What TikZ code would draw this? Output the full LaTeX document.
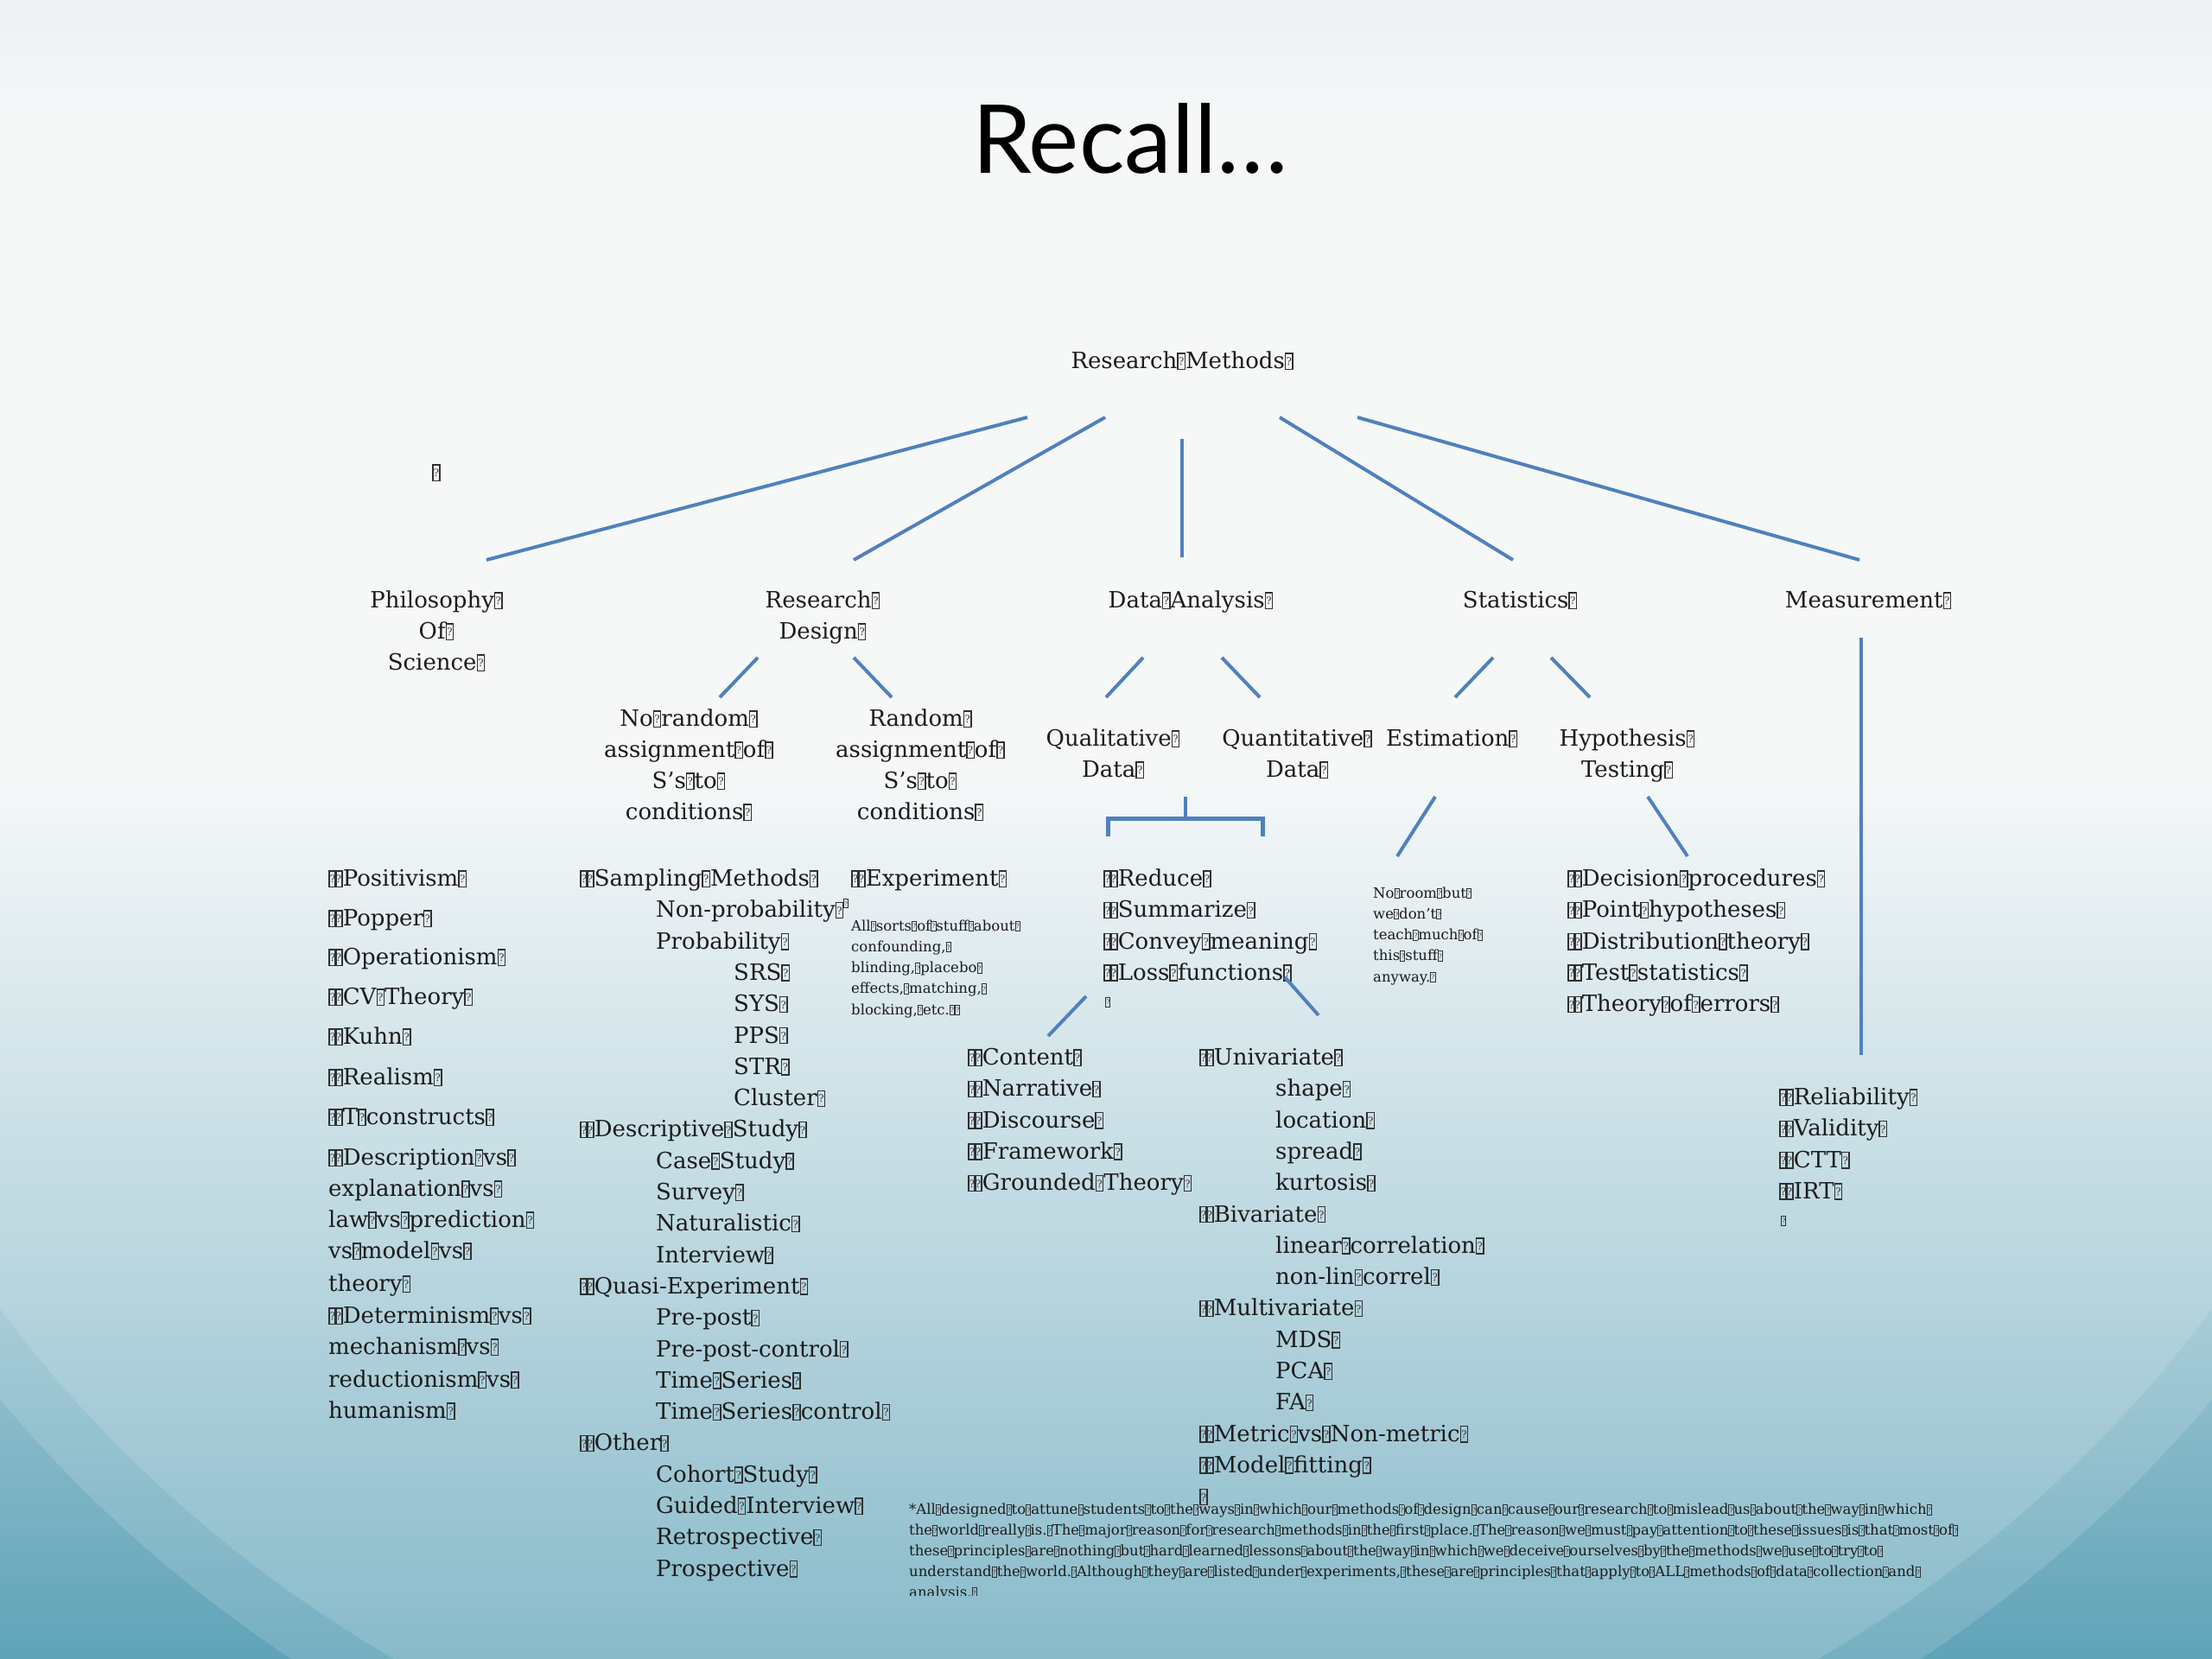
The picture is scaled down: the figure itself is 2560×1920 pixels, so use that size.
\documentclass[tikz,border=0pt]{standalone}
\usepackage{fontspec}
\setmainfont{DejaVu Serif}
\newfontfamily\titlefont{Lato}
\definecolor{lnblue}{HTML}{4F81BD}
\definecolor{txtc}{HTML}{1C1C1C}
\definecolor{boxc}{HTML}{303030}
\definecolor{bgtop}{HTML}{F4F7F8}
\definecolor{bggray}{HTML}{E8EDEF}
\definecolor{bgbot}{HTML}{5FA3B8}
\newcommand\fs{\fontsize{26}{36}\selectfont}
\newcommand\fsm{\fontsize{16.5}{24}\selectfont}
\newcommand\fsf{\fontsize{16.5}{24}\selectfont}
\newcommand\q{{\color{boxc}\fboxsep=0pt\fboxrule=0.055em\fbox{\makebox[0.26em]{\rule{0pt}{0.64em}\raisebox{0.14em}{\scalebox{0.45}{?}}}}}}
\newcommand\qq{\q\kern-0.1em\q}
\begin{document}
\begin{tikzpicture}[x=1pt,y=-1pt,
  txt/.style={font=\fs, text=txtc, inner sep=0pt, text height=18pt, text depth=5pt},
  li/.style={txt, anchor=west},
  sm/.style={font=\fsm, text=txtc, inner sep=0pt, text height=12pt, text depth=3.5pt, anchor=west},
  fnl/.style={font=\fsf, text=txtc, inner sep=0pt, text height=11pt, text depth=3.5pt, anchor=west},
  conn/.style={draw=lnblue, line width=4pt}]
\useasboundingbox (0,0) rectangle (2560,1920);
% background
\fill[bgtop] (0,0) rectangle (2560,1920);
\shade[top color=bggray, bottom color=bgtop] (0,0) rectangle (2560,140);
\shade[top color=bgtop, bottom color=bgbot] (0,900) rectangle (2560,1920);
\fill[white, opacity=0.14] (1280,700) ellipse [x radius=1620, y radius=1500];
\fill[white, opacity=0.14] (1280,680) ellipse [x radius=1560, y radius=1460];
% title
\node[font=\titlefont\fontsize{110}{120}\selectfont, text=black, anchor=base, inner sep=0pt] (title) at (1308,200) {Recall…};
% top
\node[txt] (rm) at (1368,420) {Research\q Methods\q};
\node[txt] (lone) at (505,549) {\q};
% level 2
\node[txt] (phil1) at (505,697) {Philosophy\q};
\node[txt] (phil2) at (505,733) {Of\q};
\node[txt] (phil3) at (505,769) {Science\q};
\node[txt] (rdes1) at (952,697) {Research\q};
\node[txt] (rdes2) at (952,733) {Design\q};
\node[txt] (da) at (1378,697) {Data\q Analysis\q};
\node[txt] (st) at (1759,697) {Statistics\q};
\node[txt] (me) at (2162,697) {Measurement\q};
% level 3
\node[txt] (nra1) at (797,834) {No\q random\q};
\node[txt] (nra2) at (797,870) {assignment\q of\q};
\node[txt] (nra3) at (797,906) {S’s\q to\q};
\node[txt] (nra4) at (797,942) {conditions\q};
\node[txt] (ra1) at (1065,834) {Random\q};
\node[txt] (ra2) at (1065,870) {assignment\q of\q};
\node[txt] (ra3) at (1065,906) {S’s\q to\q};
\node[txt] (ra4) at (1065,942) {conditions\q};
\node[txt] (qual1) at (1288,857) {Qualitative\q};
\node[txt] (qual2) at (1288,893) {Data\q};
\node[txt] (quan1) at (1501,857) {Quantitative\q};
\node[txt] (quan2) at (1501,893) {Data\q};
\node[txt] (est) at (1680,857) {Estimation\q};
\node[txt] (hyp1) at (1883,857) {Hypothesis\q};
\node[txt] (hyp2) at (1883,893) {Testing\q};
% philosophy list
\foreach \yy/\t [count=\i] in {1019/{\qq Positivism\q}, 1065/{\qq Popper\q}, 1110/{\qq Operationism\q}, 1156/{\qq CV\q Theory\q}, 1202/{\qq Kuhn\q}, 1249/{\qq Realism\q}, 1295/{\qq T\q constructs\q}, 1342/{\qq Description\q vs\q}, 1378/{explanation\q vs\q}, 1414/{law\q vs\q prediction\q}, 1450/{vs\q model\q vs\q}, 1488/{theory\q}, 1525/{\qq Determinism\q vs\q}, 1561/{mechanism\q vs\q}, 1599/{reductionism\q vs\q}, 1635/{humanism\q}}
  \node[li] (ph\i) at (380,\yy) {\t};
% research design list
\foreach \xx/\t [count=\i from 0] in {671/{\qq Sampling\q Methods\q}, 759/{Non-probability\q\raisebox{0.45em}{\scalebox{0.55}{\q}}}, 759/{Probability\q}, 849/{SRS\q}, 849/{SYS\q}, 849/{PPS\q}, 849/{STR\q}, 849/{Cluster\q}, 671/{\qq Descriptive\q Study\q}, 759/{Case\q Study\q}, 759/{Survey\q}, 759/{Naturalistic\q}, 759/{Interview\q}, 671/{\qq Quasi-Experiment\q}, 759/{Pre-post\q}, 759/{Pre-post-control\q}, 759/{Time\q Series\q}, 759/{Time\q Series\q control\q}, 671/{\qq Other\q}, 759/{Cohort\q Study\q}, 759/{Guided\q Interview\q}, 759/{Retrospective\q}, 759/{Prospective\q}}
  \node[li] (rl\i) at (\xx,{1019+36.3*\i}) {\t};
% experiment
\node[li] (exp) at (985,1019) {\qq Experiment\q};
\foreach \t [count=\i from 0] in {{All\q sorts\q of\q stuff\q about\q}, {confounding,\q}, {blinding,\q placebo\q}, {effects,\q matching,\q}, {blocking,\q etc.\q\q}}
  \node[sm] (en\i) at (985,{1073+24.2*\i}) {\t};
% data analysis list
\foreach \t [count=\i from 0] in {{\qq Reduce\q}, {\qq Summarize\q}, {\qq Convey\q meaning\q}, {\qq Loss\q functions\q}}
  \node[li] (dl\i) at (1277,{1019+36.3*\i}) {\t};
\node[sm] (dlb) at (1279,1161) {\q};
% qualitative list
\foreach \t [count=\i from 0] in {{\qq Content\q}, {\qq Narrative\q}, {\qq Discourse\q}, {\qq Framework\q}, {\qq Grounded\q Theory\q}}
  \node[li] (ql\i) at (1120,{1226+36.3*\i}) {\t};
% quantitative list
\foreach \xx/\t [count=\i from 0] in {1388/{\qq Univariate\q}, 1476/{shape\q}, 1476/{location\q}, 1476/{spread\q}, 1476/{kurtosis\q}, 1388/{\qq Bivariate\q}, 1476/{linear\q correlation\q}, 1476/{non-lin\q correl\q}, 1388/{\qq Multivariate\q}, 1476/{MDS\q}, 1476/{PCA\q}, 1476/{FA\q}, 1388/{\qq Metric\q vs\q Non-metric\q}, 1388/{\qq Model\q fitting\q}, 1388/{\q}}
  \node[li] (qt\i) at (\xx,{1226+36.3*\i}) {\t};
% no room note
\foreach \t [count=\i from 0] in {{No\q room\q but\q}, {we\q don’t\q}, {teach\q much\q of\q}, {this\q stuff\q}, {anyway.\q}}
  \node[sm] (nr\i) at (1589,{1035+24.2*\i}) {\t};
% statistics list
\foreach \t [count=\i from 0] in {{\qq Decision\q procedures\q}, {\qq Point\q hypotheses\q}, {\qq Distribution\q theory\q}, {\qq Test\q statistics\q}, {\qq Theory\q of\q errors\q}}
  \node[li] (sl\i) at (1814,{1019+36.3*\i}) {\t};
% measurement list
\foreach \t [count=\i from 0] in {{\qq Reliability\q}, {\qq Validity\q}, {\qq CTT\q}, {\qq IRT\q}}
  \node[li] (ml\i) at (2059,{1272+36.3*\i}) {\t};
\node[sm] (mlb) at (2061,1414) {\q};
% footnote
\begin{scope}
\clip (1000,1700) rectangle (2400,1846);
\foreach \t [count=\i from 0] in {
{*All\q designed\q to\q attune\q students\q to\q the\q ways\q in\q which\q our\q methods\q of\q design\q can\q cause\q our\q research\q to\q mislead\q us\q about\q the\q way\q in\q which\q},
{the\q world\q really\q is.\q The\q major\q reason\q for\q research\q methods\q in\q the\q first\q place.\q The\q reason\q we\q must\q pay\q attention\q to\q these\q issues\q is\q that\q most\q of\q},
{these\q principles\q are\q nothing\q but\q hard\q learned\q lessons\q about\q the\q way\q in\q which\q we\q deceive\q ourselves\q by\q the\q methods\q we\q use\q to\q try\q to\q},
{understand\q the\q world.\q Although\q they\q are\q listed\q under\q experiments,\q these\q are\q principles\q that\q apply\q to\q ALL\q methods\q of\q data\q collection\q and\q},
{analysis.\q}}
  \node[fnl] (fn\i) at (1052,{1749+24*\i}) {\t};
\end{scope}
% connectors
\coordinate (c1a) at (1189,483); \coordinate (c1b) at (563,648);
\coordinate (c2a) at (1279,483); \coordinate (c2b) at (988,648);
\coordinate (c3a) at (1368,508); \coordinate (c3b) at (1368,645);
\coordinate (c4a) at (1481,483); \coordinate (c4b) at (1751,648);
\coordinate (c5a) at (1571,483); \coordinate (c5b) at (2152,648);
\coordinate (c6a) at (877,761); \coordinate (c6b) at (833,807);
\coordinate (c7a) at (988,761); \coordinate (c7b) at (1032,807);
\coordinate (c8a) at (1323,761); \coordinate (c8b) at (1280,807);
\coordinate (c9a) at (1414,761); \coordinate (c9b) at (1458,807);
\coordinate (c10a) at (1728,761); \coordinate (c10b) at (1684,807);
\coordinate (c11a) at (1795,761); \coordinate (c11b) at (1840,807);
\coordinate (c12a) at (2154,738); \coordinate (c12b) at (2154,1221);
\coordinate (c13a) at (1661,922); \coordinate (c13b) at (1617,991);
\coordinate (c14a) at (1907,922); \coordinate (c14b) at (1953,991);
\coordinate (c15a) at (1257,1153); \coordinate (c15b) at (1213,1199);
\coordinate (c16a) at (1487,1131); \coordinate (c16b) at (1526,1175);
\foreach \k in {1,...,16} \draw[conn] (c\k a) -- (c\k b);
\coordinate (bs) at (1372,922); \coordinate (bm) at (1372,947);
\coordinate (bl) at (1282,947); \coordinate (bld) at (1282,968);
\coordinate (br) at (1461,947); \coordinate (brd) at (1461,968);
\draw[conn, line width=5pt] (bld) -- (bl) -- (br) -- (brd);
\draw[conn] (bs) -- (bm);
\end{tikzpicture}
\end{document}
